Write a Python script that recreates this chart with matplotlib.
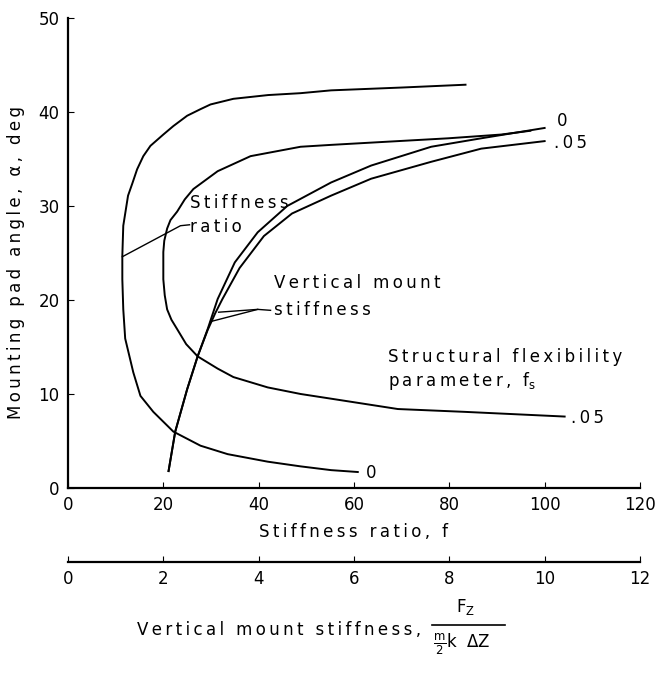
import matplotlib.pyplot as plt

# stiffness ratio curves (outer: fs = 0, inner: fs = .05)
ratio_f0_f = [83.4, 70, 55.2, 48.8, 42, 34.7, 29.9, 27.8, 25.0, 22.1, 20.0, 17.3, 15.8, 14.5,
              13.5, 12.6, 11.6, 11.4, 11.4, 11.6, 12.0, 13.7, 15.2, 17.9, 22.1, 27.8, 33.5,
              41.9, 48.8, 55.2, 60.8]
ratio_f0_a = [42.9, 42.6, 42.3, 42.0, 41.8, 41.4, 40.8, 40.3, 39.6, 38.5, 37.6, 36.4, 35.3, 33.9,
              32.4, 31.1, 27.9, 24.7, 22.2, 19.0, 15.9, 12.3, 9.8, 8.1, 6.0, 4.5, 3.6,
              2.8, 2.3, 1.9, 1.7]
ratio_f05_f = [97, 90.9, 79.8, 65.7, 55.2, 48.8, 38.3, 31.4, 26.3, 24.5, 22.9, 21.5, 20.8, 20.2,
               20.0, 20.0, 20.3, 20.8, 21.7, 22.9, 24.8, 27.2, 31.4, 34.7, 41.9, 48.8, 55.2,
               69.2, 83.2, 104.2]
ratio_f05_a = [38.0, 37.6, 37.2, 36.8, 36.5, 36.3, 35.3, 33.7, 31.8, 30.7, 29.4, 28.5, 27.6, 26.3,
               25.1, 22.2, 20.5, 19.0, 17.9, 16.9, 15.3, 14.0, 12.7, 11.8, 10.7, 10.0, 9.5,
               8.4, 8.1, 7.6]

# vertical mount stiffness curves (in stiffness-ratio units, f = 10 * stiffness)
mount_f0_f = [21.1, 22.5, 25.0, 27.2, 29.3, 31.4, 35.0, 39.8, 46.0, 55.2, 63.6, 76.2, 86.7, 100]
mount_f0_a = [1.8, 6.0, 10.5, 14.0, 16.9, 20.1, 24.0, 27.2, 30.0, 32.5, 34.3, 36.3, 37.2, 38.3]
mount_f05_f = [21.1, 22.5, 25.0, 27.2, 29.3, 30.9, 32.4, 36.0, 41.1, 47.0, 55.2, 63.6, 76.2, 86.7, 100]
mount_f05_a = [1.8, 6.0, 10.5, 14.0, 16.8, 18.6, 20.1, 23.4, 26.8, 29.2, 31.1, 32.9, 34.7, 36.1, 36.9]

x_ticks = [0, 20, 40, 60, 80, 100, 120]
y_ticks = [0, 10, 20, 30, 40, 50]
x2_ticks = [0, 2, 4, 6, 8, 10, 12]


def sp(s):
    # wide letter spacing like the original lettering
    return '\u2009'.join(s)


plt.rcParams['font.family'] = 'DejaVu Sans'
fig = plt.figure(figsize=(6.62, 6.73), dpi=100)
ax = fig.add_axes([0.1027, 0.2749, 0.864, 0.6984])

lw = 1.4
ax.plot(ratio_f0_f, ratio_f0_a, color='black', lw=lw)
ax.plot(ratio_f05_f, ratio_f05_a, color='black', lw=lw)
ax.plot(mount_f0_f, mount_f0_a, color='black', lw=lw)
ax.plot(mount_f05_f, mount_f05_a, color='black', lw=lw)

ax.set_xlim(0, 120)
ax.set_ylim(0, 50)
ax.spines['top'].set_visible(False)
ax.spines['right'].set_visible(False)
ax.spines['left'].set_linewidth(1.6)
ax.spines['bottom'].set_linewidth(1.6)
ax.set_xticks(x_ticks)
ax.set_yticks(y_ticks)
ax.tick_params(direction='in', length=4, labelsize=12, pad=6)
ax.set_xlabel(sp('Stiffness ratio, f'), fontsize=12, labelpad=6)
ax.set_ylabel(sp('Mounting pad angle, α, deg'), fontsize=12)
ax.yaxis.set_label_coords(-0.075, 0.48)

# second scale: vertical mount stiffness
sec = ax.secondary_xaxis(-0.157, functions=(lambda f: f / 10, lambda v: v * 10))
sec.set_xticks(x2_ticks)
sec.tick_params(direction='in', length=4, labelsize=12, pad=6)
sec.spines['bottom'].set_linewidth(1.6)

fig.text(137 / 662, 1 - 630 / 673, sp('Vertical mount stiffness,'), fontsize=12, va='center')
fig.text(466 / 662, 1 - 607 / 673, r'F$_\mathregular{Z}$', fontsize=12, ha='center', va='center')
fig.add_artist(plt.Line2D([432 / 662, 505 / 662], [1 - 625 / 673] * 2, color='black', lw=1.2))
fig.text(462 / 662, 1 - 644 / 673, r'$\frac{\mathregular{m}}{\mathregular{2}}$k  ΔZ', fontsize=12,
         ha='center', va='center')

# annotations
ax.text(25.7, 30.3, sp('Stiffness'), fontsize=12, va='center')
ax.text(25.7, 27.8, sp('ratio'), fontsize=12, va='center')
ax.plot([25.5, 23.6, 11.4], [28.0, 27.9, 24.6], color='black', lw=1.0)

ax.text(43.2, 21.8, sp('Vertical mount'), fontsize=12, va='center')
ax.text(43.2, 18.9, sp('stiffness'), fontsize=12, va='center')
ax.plot([42.5, 39.8, 31.6], [18.9, 19.0, 18.7], color='black', lw=1.0)
ax.plot([39.8, 29.9], [19.0, 17.7], color='black', lw=1.0)

ax.text(67.2, 13.9, sp('Structural flexibility'), fontsize=12, va='center')
ax.text(67.2, 11.4, sp('parameter, f') + r'$_\mathregular{s}$', fontsize=12, va='center')

ax.text(62.5, 1.6, '0', fontsize=12, va='center')
ax.text(105.5, 7.4, sp('.05'), fontsize=12, va='center')
ax.text(102.5, 39.0, '0', fontsize=12, va='center')
ax.text(102.0, 36.7, sp('.05'), fontsize=12, va='center')

fig.savefig('out.png', dpi=100)
